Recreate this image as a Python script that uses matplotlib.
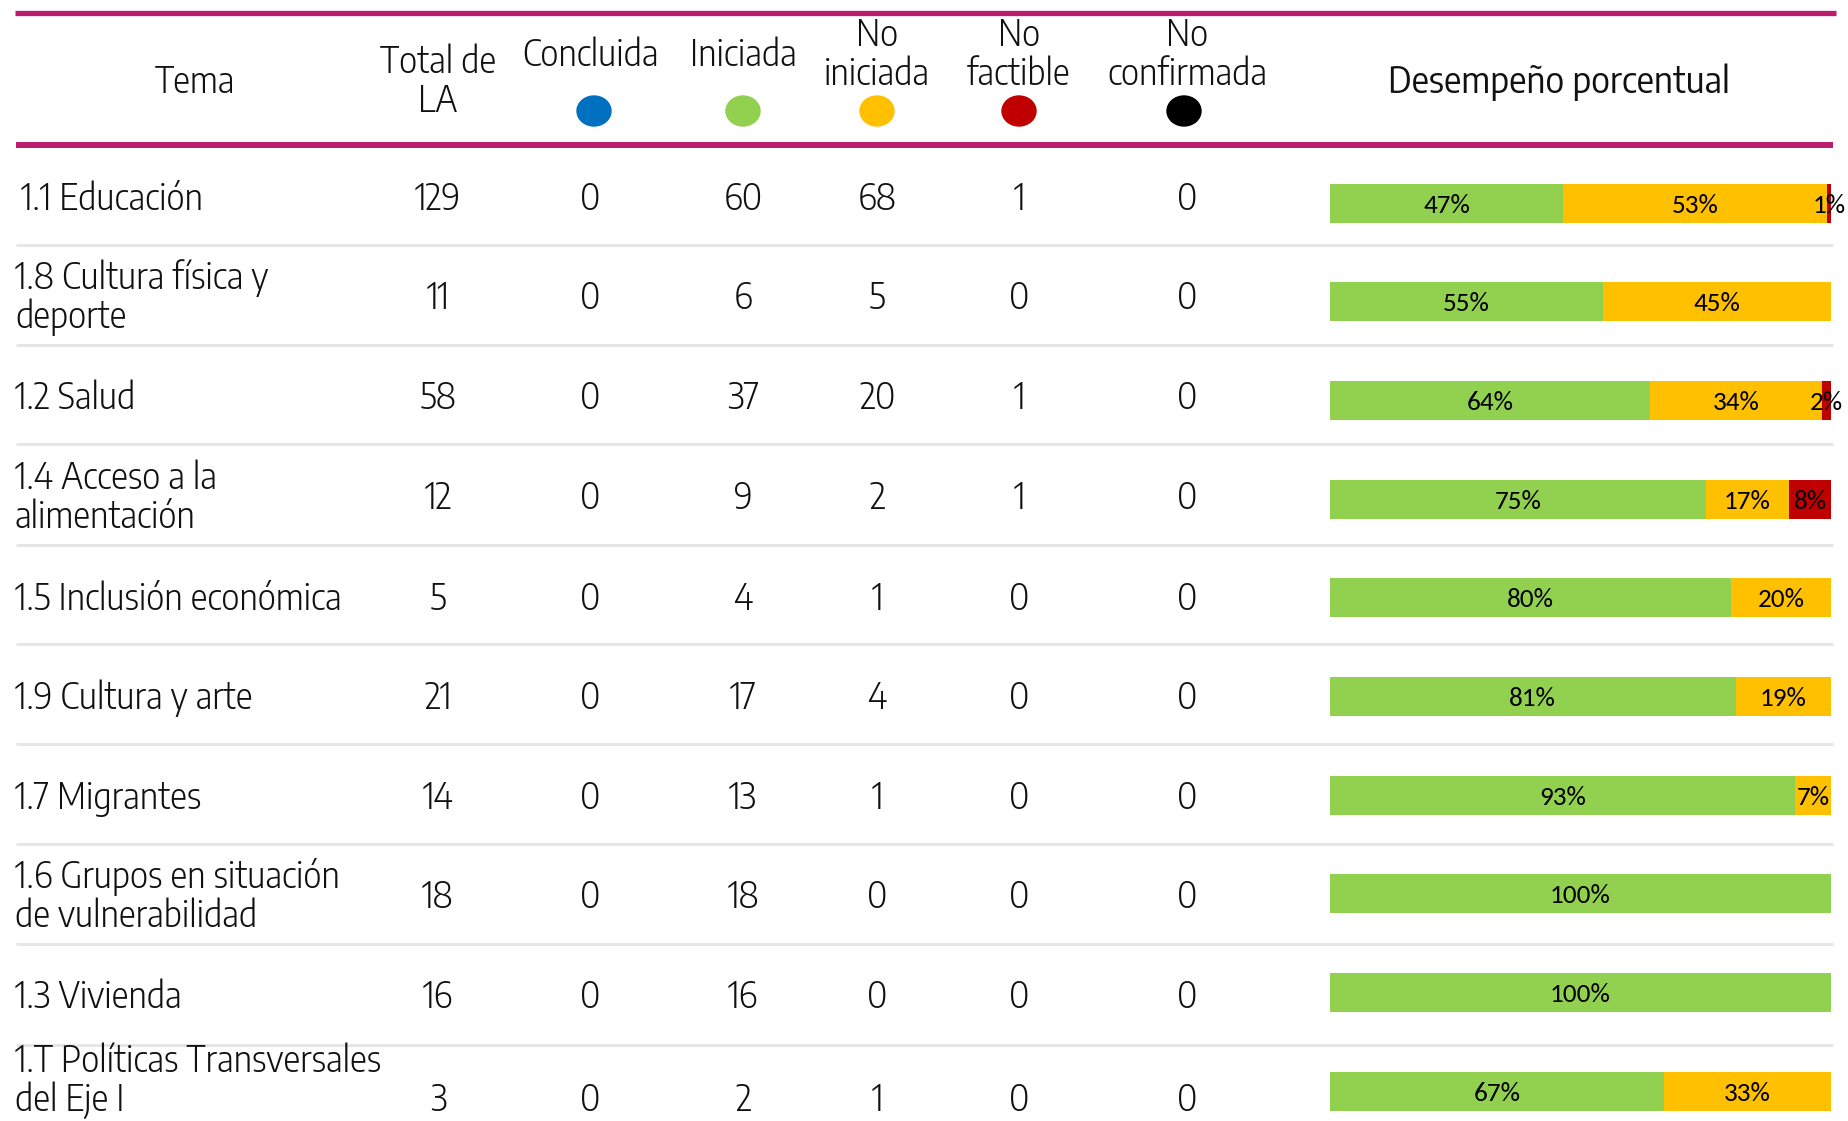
import matplotlib
matplotlib.use("Agg")
import matplotlib.pyplot as plt
from matplotlib.patches import Ellipse
import numpy as np

# data
temas = ["1.1 Educación", "1.8 Cultura física y\ndeporte", "1.2 Salud",
         "1.4 Acceso a la\nalimentación", "1.5 Inclusión económica",
         "1.9 Cultura y arte", "1.7 Migrantes",
         "1.6 Grupos en situación\nde vulnerabilidad", "1.3 Vivienda",
         "1.T Políticas Transversales\ndel Eje I"]
total = [129, 11, 58, 12, 5, 21, 14, 18, 16, 3]
concluida = [0, 0, 0, 0, 0, 0, 0, 0, 0, 0]
iniciada = [60, 6, 37, 9, 4, 17, 13, 18, 16, 2]
no_iniciada = [68, 5, 20, 2, 1, 4, 1, 0, 0, 1]
no_factible = [1, 0, 1, 1, 0, 0, 0, 0, 0, 0]
no_confirmada = [0, 0, 0, 0, 0, 0, 0, 0, 0, 0]

estados = ["Concluida", "Iniciada", "No\niniciada", "No\nfactible", "No\nconfirmada"]
colores = ["#0070C0", "#92D050", "#FFC000", "#C00000", "#000000"]

FONT = "Encode Sans Semi Condensed"
MAGENTA = "#BC1C6C"
TXT = "#111111"

fig = plt.figure(figsize=(18.49, 11.21), dpi=100)
ax = fig.add_axes([0, 0, 1, 1])
ax.set_xlim(0, 1849)
ax.set_ylim(1121, 0)
ax.axis("off")

# header lines
ax.plot([15, 1836], [13, 13], color=MAGENTA, lw=3.8, solid_capstyle="butt")
ax.plot([16, 1833], [145, 145], color=MAGENTA, lw=4.3, solid_capstyle="butt")

def put(x, y, s, size=25.5, ha="center", weight=300):
    lines = s.split("\n")
    gap = 39
    y0 = y - gap * (len(lines) - 1) / 2 + 2
    for k, ln in enumerate(lines):
        ax.text(x, y0 + k * gap, ln, ha=ha, va="center", fontsize=size,
                family=FONT, weight=weight, color=TXT)

put(195, 80, "Tema")
put(438, 80, "Total de\nLA")
col_x = [590, 743, 877, 1019, 1187]
circ_x = [594, 743, 877, 1019, 1184]
for i, (lab, c) in enumerate(zip(estados, colores)):
    put(col_x[i], 53, lab)
    ax.add_patch(Ellipse((circ_x[i], 111), 34, 30, color=c))
put(1559, 80, "Desempeño porcentual", size=26, weight=400)

# rows
row_y = [197, 296, 396, 496, 597, 696, 796, 895, 995, 1079]
for y in [245, 345, 444, 545, 644, 744, 844, 944, 1045]:
    ax.plot([16, 1833], [y, y], color="#E6E6E6", lw=2.2, solid_capstyle="butt")

num_x = [438] + col_x
for i, tema in enumerate(temas):
    y = row_y[i]
    lx = 21 if i == 0 else 15
    num_y = 1098 if i == len(temas) - 1 else y
    put(lx, y, tema, ha="left")
    vals = [total[i], concluida[i], iniciada[i], no_iniciada[i], no_factible[i], no_confirmada[i]]
    for x, v in zip(num_x, vals):
        put(x, num_y, str(v))

# performance bars
bx = fig.add_axes([1330 / 1849, 0, 501 / 1849, (1121 - 153.7) / 1121])
bx.set_xlim(0, 1)
bx.set_ylim(9.303, -0.5)
bx.axis("off")
series = np.array([concluida, iniciada, no_iniciada, no_factible, no_confirmada], dtype=float)
tot = np.array(total, dtype=float)
share = series / tot
ypos = np.arange(len(temas))
left = np.zeros(len(temas))
for s, c in zip(share, colores):
    bx.barh(ypos, s, left=left, height=0.395, color=c, linewidth=0)
    for j in range(len(temas)):
        if s[j] > 0:
            bx.text(left[j] + s[j] / 2, ypos[j] + 0.02, f"{round(s[j] * 100):.0f}%",
                    ha="center", va="center", fontsize=19.5, family="Carlito",
                    color="black", clip_on=False)
    left += s

fig.savefig("out.png", dpi=100)
